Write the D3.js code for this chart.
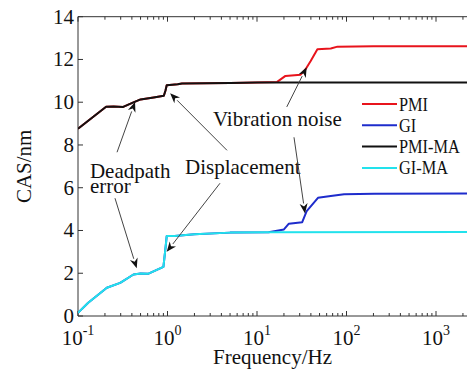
<!DOCTYPE html>
<html><head><meta charset="utf-8">
<script src="https://cdn.jsdelivr.net/npm/d3@7"></script>
<style>
html,body{margin:0;padding:0;background:#fff;overflow:hidden;}
text{font-family:"Liberation Serif","Times New Roman",serif;fill:#111;}
</style></head>
<body>
<svg id="chart" width="467" height="374"></svg>
<script>
// ---- data ----
const seriesNames = ["PMI", "GI", "PMI-MA", "GI-MA"];
const seriesColors = ["#e8141c", "#1e2ccc", "#111111", "#22e2ec"];
const pmi = [[0.1,8.76],[0.206,9.79],[0.25,9.8],[0.32,9.78],[0.41,9.98],[0.5,10.13],[0.7,10.22],[0.91,10.3],[0.95,10.55],[0.98,10.79],[1.3,10.84],[1.45,10.88],[5,10.9],[10,10.92],[16.8,10.95],[20.8,11.23],[30.7,11.29],[34.9,11.54],[39.8,11.93],[47.3,12.48],[66.7,12.51],[79.3,12.6],[200,12.62],[10000,12.62]];
const pmiMA = [[0.1,8.76],[0.206,9.79],[0.25,9.8],[0.32,9.78],[0.41,9.98],[0.5,10.13],[0.7,10.22],[0.91,10.3],[0.95,10.55],[0.98,10.79],[1.3,10.84],[1.45,10.88],[5,10.9],[10,10.92],[10000,10.93]];
const gi = [[0.1,0.15],[0.13,0.62],[0.21,1.32],[0.296,1.55],[0.417,1.94],[0.5,1.99],[0.614,1.98],[0.9,2.3],[0.955,3.27],[0.98,3.74],[1.2,3.74],[2,3.82],[5,3.9],[13.5,3.92],[20,4.05],[22.7,4.32],[32,4.39],[35.9,4.91],[48,5.53],[66.7,5.61],[94,5.69],[204,5.72],[10000,5.74]];
const giMA = [[0.1,0.15],[0.13,0.62],[0.21,1.32],[0.296,1.55],[0.417,1.94],[0.5,1.99],[0.614,1.98],[0.9,2.3],[0.955,3.27],[0.98,3.74],[1.2,3.74],[2,3.82],[5,3.9],[13.5,3.92],[10000,3.93]];
const yTicks = [0,2,4,6,8,10,12,14];
const xTickExps = [-1,0,1,2,3];
const xTickExpsAll = [-1,0,1,2,3,4];
const xLabel = "Frequency/Hz";
const yLabel = "CAS/nm";
// annotations: text [freq, value]; arrows [from freq, from value, to freq, to value]
const annoTexts = [["Deadpath",0.136,6.45],["error",0.136,5.74],["Displacement",1.57,6.63],["Vibration noise",3.22,8.87]];
const annoArrows = [[0.273,7.66,0.434,10.01],[0.259,5.51,0.453,2.23],[4.62,7.75,1.07,10.42],[3.86,6.21,0.98,3.0],[21.5,9.78,35.9,11.64],[25.9,8.36,34.4,4.8]];

// ---- layout ----
const L = 78, T = 16.7, B = 316, DEC = 89.5, W = 467;
const x = d3.scaleLog().domain([0.1, 10000]).range([L, L + 5*DEC]);
const y = d3.scaleLinear().domain([0, 14]).range([B, T]);
const svg = d3.select("#chart");
const R = x(10000);

svg.append("defs").append("clipPath").attr("id","clip")
  .append("rect").attr("x",L).attr("y",T).attr("width",R-L).attr("height",B-T);

// axes box
const axG = svg.append("g").attr("stroke","#333").attr("stroke-width",1).attr("fill","none");
axG.append("line").attr("x1",L).attr("x2",R).attr("y1",B).attr("y2",B);
axG.append("line").attr("x1",L).attr("x2",R).attr("y1",T).attr("y2",T);
axG.append("line").attr("x1",L).attr("x2",L).attr("y1",T).attr("y2",B);

// x ticks (major + minor), inward on bottom and top
const majors = xTickExpsAll.map(e => Math.pow(10, e));
const minors = [];
xTickExpsAll.forEach(e => { for (let k = 2; k <= 9; k++) minors.push(k*Math.pow(10, e)); });
majors.forEach(v => {
  axG.append("line").attr("x1",x(v)).attr("x2",x(v)).attr("y1",B).attr("y2",B-5);
  axG.append("line").attr("x1",x(v)).attr("x2",x(v)).attr("y1",T).attr("y2",T+5);
});
minors.filter(v => v <= 10000).forEach(v => {
  axG.append("line").attr("x1",x(v)).attr("x2",x(v)).attr("y1",B).attr("y2",B-3);
  axG.append("line").attr("x1",x(v)).attr("x2",x(v)).attr("y1",T).attr("y2",T+3);
});
yTicks.forEach(v => {
  axG.append("line").attr("x1",L).attr("x2",L+5).attr("y1",y(v)).attr("y2",y(v));
});

// y tick labels
svg.append("g").selectAll("text").data(yTicks).join("text")
  .attr("x", L-4).attr("y", d => y(d)+7).attr("text-anchor","end")
  .attr("font-size",21).text(d => d);

// x tick labels 10^e
const xl = svg.append("g");
xTickExps.forEach(e => {
  const t = xl.append("text").attr("x", x(Math.pow(10,e))).attr("y", 345)
    .attr("text-anchor","middle").attr("font-size",21);
  t.append("tspan").text("10");
  t.append("tspan").attr("dy",-10).attr("font-size",14).text(String(e));
});

// axis labels
svg.append("text").attr("x",(L+W)/2).attr("y",364).attr("text-anchor","middle")
  .attr("font-size",21).text(xLabel);
svg.append("text").attr("transform",`translate(31,${(T+B)/2}) rotate(-90)`)
  .attr("text-anchor","middle").attr("font-size",21).text(yLabel);

// lines
const line = d3.line().x(d => x(d[0])).y(d => y(d[1]));
const data = [pmi, gi, pmiMA, giMA];
const lg = svg.append("g").attr("clip-path","url(#clip)");
data.forEach((dd, i) => {
  lg.append("path").datum(dd).attr("d", line).attr("fill","none")
    .attr("stroke", seriesColors[i]).attr("stroke-width", 2)
    .attr("stroke-linejoin","round");
});

// legend
const leg = svg.append("g");
seriesNames.forEach((n, i) => {
  const yy = 104 + i*21.3;
  leg.append("line").attr("x1",362).attr("x2",397).attr("y1",yy).attr("y2",yy)
    .attr("stroke",seriesColors[i]).attr("stroke-width",2);
  leg.append("text").attr("transform",`translate(399,${yy+6.5}) scale(0.86,1)`)
    .attr("font-size",19).text(n);
});

// annotations
const ag = svg.append("g");
annoTexts.forEach(a => {
  ag.append("text").attr("x", x(a[1])).attr("y", y(a[2])).attr("font-size",21).text(a[0]);
});
annoArrows.forEach(a => {
  const x1 = x(a[0]), y1 = y(a[1]), x2 = x(a[2]), y2 = y(a[3]);
  const ang = Math.atan2(y2-y1, x2-x1);
  const hl = 10, hw = 4;
  const bx = x2 - hl*Math.cos(ang), by = y2 - hl*Math.sin(ang);
  ag.append("line").attr("x1",x1).attr("y1",y1).attr("x2",bx).attr("y2",by)
    .attr("stroke","#444").attr("stroke-width",1);
  const px = -Math.sin(ang), py = Math.cos(ang);
  const mx = x2 - 0.7*hl*Math.cos(ang), my = y2 - 0.7*hl*Math.sin(ang);
  ag.append("path").attr("d",
    `M${x2},${y2}L${bx+hw*px},${by+hw*py}L${mx},${my}L${bx-hw*px},${by-hw*py}Z`)
    .attr("fill","#111");
});
</script>
</body></html>
